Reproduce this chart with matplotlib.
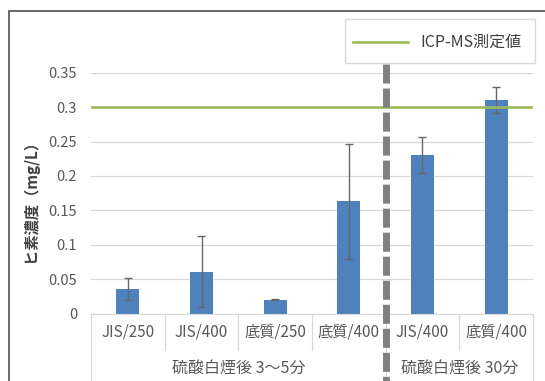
import matplotlib
matplotlib.use("Agg")
import matplotlib.pyplot as plt
import matplotlib.patches as patches
from matplotlib.lines import Line2D
import numpy as np

plt.rcParams['font.family'] = ['Noto Sans CJK JP', 'DejaVu Sans']

# Données
categories = ['JIS/250', 'JIS/400', '底質/250', '底質/400', 'JIS/400', '底質/400']
valeurs    = [0.035, 0.061, 0.020, 0.163, 0.230, 0.310]
erreurs    = [0.016, 0.051, 0.0005, 0.084, 0.026, 0.019]
groupes    = ['硫酸白煙後 3～5分', '硫酸白煙後 30分']
taille_grp = [4, 2]
icp_ms     = 0.30
yticks     = [0, 0.05, 0.1, 0.15, 0.2, 0.25, 0.3, 0.35]
ytick_lbls = ['0', '0.05', '0.1', '0.15', '0.2', '0.25', '0.3', '0.35']

W, H = 545, 381
def fx(px): return px / W
def fy(py): return 1 - py / H

fig = plt.figure(figsize=(W / 100, H / 100), dpi=100)
ax = fig.add_axes([fx(91), fy(313.5), fx(533) - fx(91), fy(72.7) - fy(313.5)])

x = np.arange(len(categories))
ax.bar(x, valeurs, width=0.31, color='#4F81BD', zorder=2)
ax.errorbar(x, valeurs, yerr=erreurs, fmt='none', ecolor='#666666',
            elinewidth=1, capsize=3, capthick=1, zorder=3)
ax.axhline(icp_ms, color='#9BBB59', lw=1.9, zorder=4)

ax.set_xlim(-0.5, len(categories) - 0.5)
ax.set_ylim(0, 0.35)
ax.set_yticks(yticks, ytick_lbls)
ax.yaxis.grid(True, color='#D9D9D9', lw=0.9)
ax.set_axisbelow(True)
for s in ['left', 'right', 'top']:
    ax.spines[s].set_visible(False)
ax.spines['bottom'].set_color('#D9D9D9')
ax.tick_params(axis='y', length=0, pad=10, labelsize=10.5, labelcolor='#595959')
ax.set_xticks(x, categories)
ax.tick_params(axis='x', length=0, pad=7.5, labelsize=11, labelcolor='#595959')

# Séparateurs de catégories
trans = ax.get_xaxis_transform()
bornes = np.cumsum([0] + taille_grp) - 0.5
for b in np.arange(-0.5, len(categories), 1.0):
    bas = -0.28 if b in bornes else -0.152
    ax.plot([b, b], [0, bas], color='#D9D9D9', lw=0.9, transform=trans, clip_on=False)

# Libellés de groupes
debut = 0
for g, n in zip(groupes, taille_grp):
    centre = debut + (n - 1) / 2
    ax.text(centre, -0.23, g, transform=trans, ha='center', va='center',
            fontsize=11.5, color='#595959')
    debut += n

# Ligne pointillée de séparation
ax.plot([bornes[1], bornes[1]], [1.036, -0.3], color='#808080', lw=5,
        linestyle=(0, (2.74, 0.72)), solid_capstyle='butt', dash_capstyle='butt',
        transform=trans, clip_on=False, zorder=5)

# Titre axe Y
fig.text(fx(30), fy(197), 'ヒ素濃度（mg/L）', rotation=90, ha='center', va='center',
         fontsize=11, fontweight='bold', color='#404040')

# Légende
fig.patches.append(patches.Rectangle((fx(345), fy(62.7)), fx(535) - fx(345), fy(19.3) - fy(62.7),
                                     transform=fig.transFigure, fill=True, facecolor='white',
                                     edgecolor='#D9D9D9', lw=1))
fig.lines.append(Line2D([fx(353), fx(408)], [fy(42.3), fy(42.3)], transform=fig.transFigure,
                        color='#9BBB59', lw=1.9))
fig.text(fx(420), fy(42.3), 'ICP-MS測定値', ha='left', va='center', fontsize=11.5, color='#404040')

# Cadre
fig.patches.append(patches.Rectangle((fx(8.5), fy(400)), fx(600), fy(10.5) - fy(400),
                                     transform=fig.transFigure, fill=False,
                                     edgecolor='#404040', lw=1.1))

fig.savefig('out.png', dpi=100)
